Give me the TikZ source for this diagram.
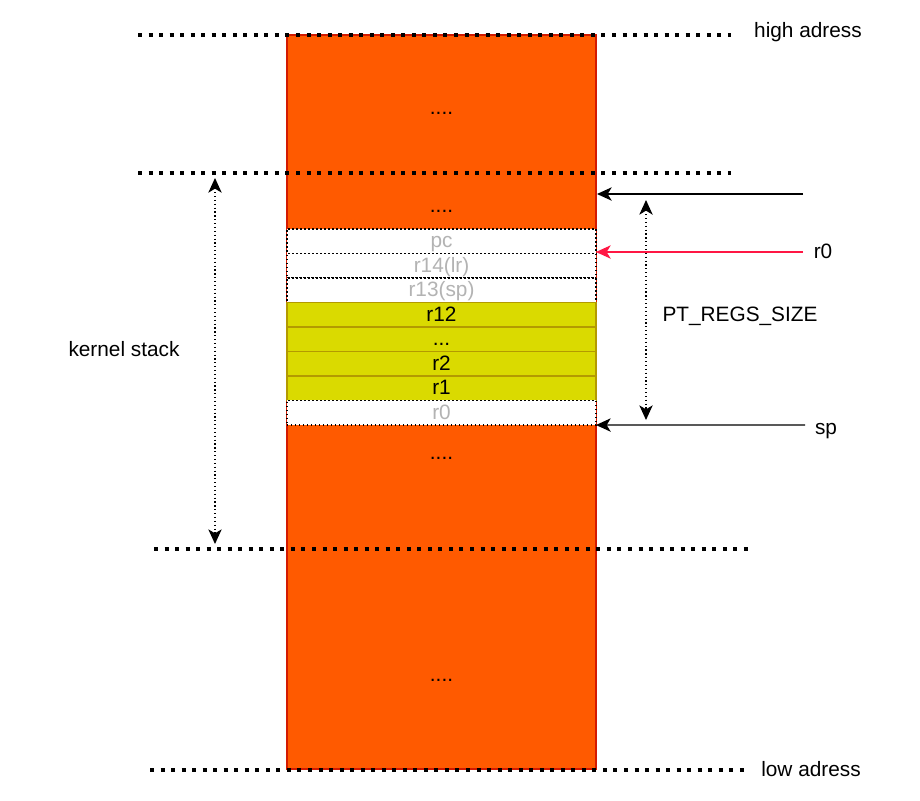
\documentclass[tikz,border=0pt]{standalone}
\usepackage{fontspec}
\setmainfont{Liberation Sans}
\usetikzlibrary{arrows.meta,positioning}
\definecolor{stackfill}{HTML}{FF5A00}
\definecolor{stackedge}{HTML}{D41A00}
\definecolor{regfill}{HTML}{DADA00}
\definecolor{regedge}{HTML}{B39A00}
\definecolor{ghost}{HTML}{B3B3B3}
\definecolor{ptrred}{HTML}{FF1744}
\tikzset{
  bound/.style={line width=3pt,dash pattern=on 3pt off 4.9pt},
  reg/.style={minimum width=231.75pt,minimum height=18.4pt,inner sep=0pt,outer sep=0pt},
  savedreg/.style={reg,draw=black,dotted,line width=1pt,fill=white,text=ghost},
  livereg/.style={reg,draw=regedge,line width=1pt,fill=regfill},
  ptr/.style={line width=1pt,-{Stealth[length=11pt,width=10pt,inset=3pt]}},
  span/.style={line width=0.9pt,dotted,{Stealth[length=11pt,width=10pt,inset=3pt]}-{Stealth[length=11pt,width=10pt,inset=3pt]}}
}
\begin{document}
\begin{tikzpicture}[x=0.75pt,y=-0.75pt,font=\fontsize{15.6}{18}\selectfont,text height=1.21em,text depth=0.2em]
\useasboundingbox (0,0) rectangle (920,800);
\fill[stackfill] (287,35) rectangle (596,769);\draw[stackedge,line width=1pt] (287,35) rectangle (596,769);
\node (dotsa) at (441.5,107.5){....};\node (dotsb) at (441.5,205.5){....};
\node (dotsc) at (441.5,452.5){....};\node (dotsd) at (441.5,674.5){....};
% saved registers
\node[savedreg] (pc) at (441.5,241.25){pc};
\node[savedreg] (lr) at (441.5,265.75){r14(lr)};
\node[savedreg] (rsp) at (441.5,290.25){r13(sp)};
\foreach \y/\n/\t in {314.75/r12/r12,339.25/rdots/{...},363.75/r2/r2,388.25/r1/r1}{\node[livereg] (\n) at (441.5,\y){\t};}
\node[savedreg] (rzero) at (441.5,412.75){r0};
% address bounds
\draw[bound] (138,35)--(731,35);\draw[bound] (138,173)--(731,173);
\draw[bound] (154,549)--(748,549);\draw[bound] (150,770)--(744,770);
\node (high) at (808,31){high adress};\node (low) at (811,770){low adress};
% pointers
\coordinate (topfrom) at (803,194);\coordinate (topto) at (597,194);\draw[ptr] (topfrom)--(topto);
\node (rlbl) at (823,252){r0};\coordinate (rfrom) at (803,252);\draw[ptr,ptrred] (rfrom)--(pc.east|-rfrom);
\node (splbl) at (826,428){sp};\coordinate (spfrom) at (805,425);\draw[ptr] (spfrom)--(rzero.south east);
% sizes
\coordinate (pta) at (646,200);\coordinate (ptb) at (646,420);\draw[span] (pta)--(ptb);
\node (ptlbl) at (740,315){PT\_REGS\_SIZE};
\coordinate (ksa) at (215,178);\coordinate (ksb) at (215,544);\draw[span] (ksa)--(ksb);
\node (kslbl) at (124,350){kernel stack};
\end{tikzpicture}
\end{document}
